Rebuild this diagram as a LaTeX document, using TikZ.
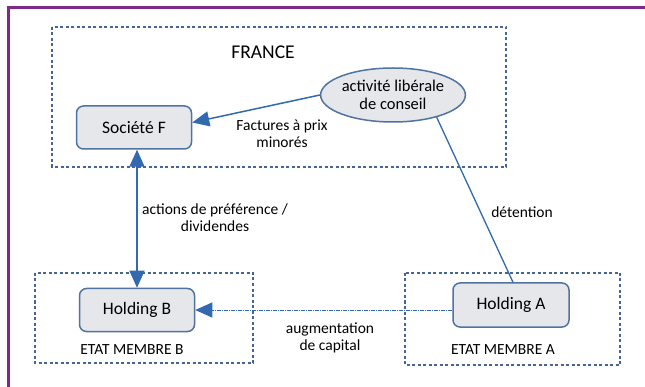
\documentclass[tikz,border=0pt]{standalone}
\usepackage{fontspec}
\setmainfont{Carlito}
\usepackage{xcolor}
\usepackage{tikz}
\usetikzlibrary{positioning,arrows.meta,shapes.geometric}

\definecolor{cadre}{RGB}{128,40,140}
\definecolor{pays}{RGB}{70,100,150}
\definecolor{flux}{RGB}{50,105,175}
\definecolor{bord}{RGB}{80,115,160}
\definecolor{fond}{RGB}{229,231,235}

\tikzset{
  entite/.style={draw=bord, line width=1.5pt, fill=fond, rounded corners=7pt,
    minimum width=115pt, minimum height=43pt, font=\fontsize{17.5}{19}\selectfont},
  zone/.style={draw=pays, line width=1.3pt, dash pattern=on 3pt off 2.5pt},
  fleche/.style={draw=flux, line width=1.5pt, -{Triangle[length=17pt,width=15pt]}},
  lien/.style={draw=flux, line width=1.3pt},
  etiq/.style={font=\fontsize{15.5}{17}\selectfont, align=center},
}

\begin{document}
\begin{tikzpicture}[x=1pt,y=-1pt]
\useasboundingbox (0,0) rectangle (645,387);
\fill[white] (0,0) rectangle (645,387);
\draw[cadre, line width=3pt] (8.5,387) -- (8.5,7.5) -- (645,7.5);

% zones
\draw[zone] (52,27) rectangle (506,167);
\draw[zone] (35,273) rectangle (253,363);
\draw[zone] (405,273) rectangle (620,365);
\node[font=\fontsize{19.5}{21}\selectfont] (france) at (263,52) {FRANCE};
\node[etiq] (emb) at (132,350) {ETAT MEMBRE B};
\node[etiq] (ema) at (503,350) {ETAT MEMBRE A};

% entites
\node[entite] (soc) at (134,127.5) {Société F};
\node[entite] (hb) at (137,310) {Holding B};
\node[entite, minimum width=116pt, minimum height=44pt] (ha) at (511,305) {Holding A};
\node[ellipse, draw=bord, line width=1.5pt, fill=fond, minimum width=129pt,
  minimum height=54pt, inner sep=0pt, align=center, font=\fontsize{16.5}{18}\selectfont]
  (act) at (393,95) {activité libérale\\de conseil};

% flux
\draw[fleche] (act.west) -- ([yshift=5pt]soc.east);
\draw[lien] (act.-27) -- ([xshift=2pt]ha.north);
\draw[fleche, {Triangle[length=17pt,width=15pt]}-{Triangle[length=17pt,width=15pt]}]
  (soc.south -| hb.north) -- (hb.north);
\draw[fleche, line width=1pt, dash pattern=on 4pt off 1pt on 1pt off 1pt]
  (ha.west |- hb.east) -- (hb.east);

% textes
\node[etiq] (fact) at (282,134) {Factures à prix\\minorés};
\node[etiq] (actions) at (215,218) {actions de préférence /\\dividendes};
\node[etiq] (det) at (522,212) {détention};
\node[etiq] (augm) at (330,338) {augmentation\\de capital};
\end{tikzpicture}
\end{document}
